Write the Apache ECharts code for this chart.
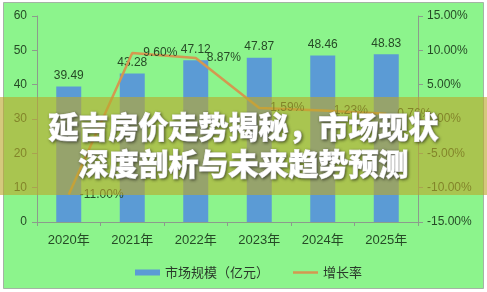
<!DOCTYPE html>
<html>
<head>
<meta charset="utf-8">
<script src="https://cdn.jsdelivr.net/npm/echarts@6/dist/echarts.min.js"></script>
<style>
html,body{margin:0;padding:0;background:#fff;}
#c{width:487px;height:292px;}
</style>
</head>
<body>
<div id="c"></div>
<script>
var categories = ['2020年', '2021年', '2022年', '2023年', '2024年', '2025年'];
var marketSize = [39.49, 43.28, 47.12, 47.87, 48.46, 48.83];
var growthRate = [-11.00, 9.60, 8.87, 1.59, 1.23, 0.76];
var seriesNames = ['市场规模（亿元）', '增长率'];
var titleLines = ['延吉房价走势揭秘，市场现状', '深度剖析与未来趋势预测'];

var textColor = '#264a26';
var axisColor = '#8c9c8c';
var lineColor = '#D49850';
var chart = echarts.init(document.getElementById('c'), null, {renderer: 'canvas'});
var titleStyle = function (t) {
  return {text: t, fill: '#ffffff', font: '900 30px "Noto Sans CJK SC", sans-serif',
    stroke: '#ffffff', lineWidth: 0.9,
    textAlign: 'center', textVerticalAlign: 'middle',
    textShadowColor: 'rgba(0,0,0,0.5)', textShadowBlur: 3, textShadowOffsetX: 1, textShadowOffsetY: 1};
};
chart.setOption({
  backgroundColor: '#ffffff',
  animation: false,
  grid: {left: 37, right: 69, top: 16, bottom: 70},
  legend: {
    top: 261, left: 130,
    itemWidth: 25, itemHeight: 6, itemGap: 24,
    symbolKeepAspect: true,
    textStyle: {color: '#2a3a2a', fontSize: 13, fontFamily: '"Noto Sans CJK SC", sans-serif'},
    data: [{name: seriesNames[0], icon: 'rect'},
           {name: seriesNames[1], icon: 'path://M0,0H25V2.5H0Z'}]
  },
  xAxis: {
    type: 'category', data: categories, boundaryGap: true,
    axisLine: {lineStyle: {color: axisColor}},
    axisTick: {show: true, length: 4, lineStyle: {color: axisColor}},
    axisLabel: {color: textColor, fontSize: 13, margin: 12, fontFamily: '"Liberation Sans", "Noto Sans CJK SC", sans-serif'}
  },
  yAxis: [{
    type: 'value', min: 0, max: 60, interval: 10,
    axisLine: {show: true, lineStyle: {color: axisColor}},
    axisTick: {show: true, length: 5, lineStyle: {color: axisColor}},
    splitLine: {show: false},
    axisLabel: {color: textColor, fontSize: 12, margin: 10, fontFamily: '"Liberation Sans", sans-serif'}
  }, {
    type: 'value', min: -15, max: 15, interval: 5,
    axisLine: {show: true, lineStyle: {color: axisColor}},
    axisTick: {show: true, length: 5, lineStyle: {color: axisColor}},
    splitLine: {show: false},
    axisLabel: {color: textColor, fontSize: 12, margin: 9, fontFamily: '"Liberation Sans", sans-serif',
      formatter: function (v) { return v.toFixed(2) + '%'; }}
  }],
  series: [{
    name: seriesNames[0], type: 'bar', data: marketSize, barWidth: 25,
    itemStyle: {color: '#5B9BD5'},
    label: {show: true, position: 'top', distance: 5, color: textColor, fontSize: 12, fontFamily: '"Liberation Sans", sans-serif',
      formatter: function (p) { return p.value.toFixed(2); }},
    z: 2
  }, {
    name: seriesNames[1], type: 'line', yAxisIndex: 1, data: growthRate,
    symbol: 'circle', symbolSize: 0.1, showSymbol: true,
    lineStyle: {color: lineColor, width: 2.5}, itemStyle: {color: lineColor},
    label: {show: true, position: 'right', distance: 11, color: textColor, fontSize: 12, fontFamily: '"Liberation Sans", sans-serif',
      formatter: function (p) { return p.value.toFixed(2) + '%'; }},
    z: 3
  }],
  graphic: [
    {type: 'rect', z: -100, silent: true, shape: {x: 3.5, y: 2.5, width: 480, height: 286},
      style: {fill: '#8CF48C', stroke: '#a4b4a4', lineWidth: 1}},
    {type: 'rect', z: 100, silent: true, shape: {x: 0, y: 97, width: 487, height: 98},
      style: {fill: 'rgba(188,168,44,0.62)'}},
    {type: 'text', z: 101, silent: true, x: 243.5, y: 127, style: titleStyle(titleLines[0])},
    {type: 'text', z: 101, silent: true, x: 243.5, y: 164, style: titleStyle(titleLines[1])}
  ]
});
</script>
</body>
</html>
